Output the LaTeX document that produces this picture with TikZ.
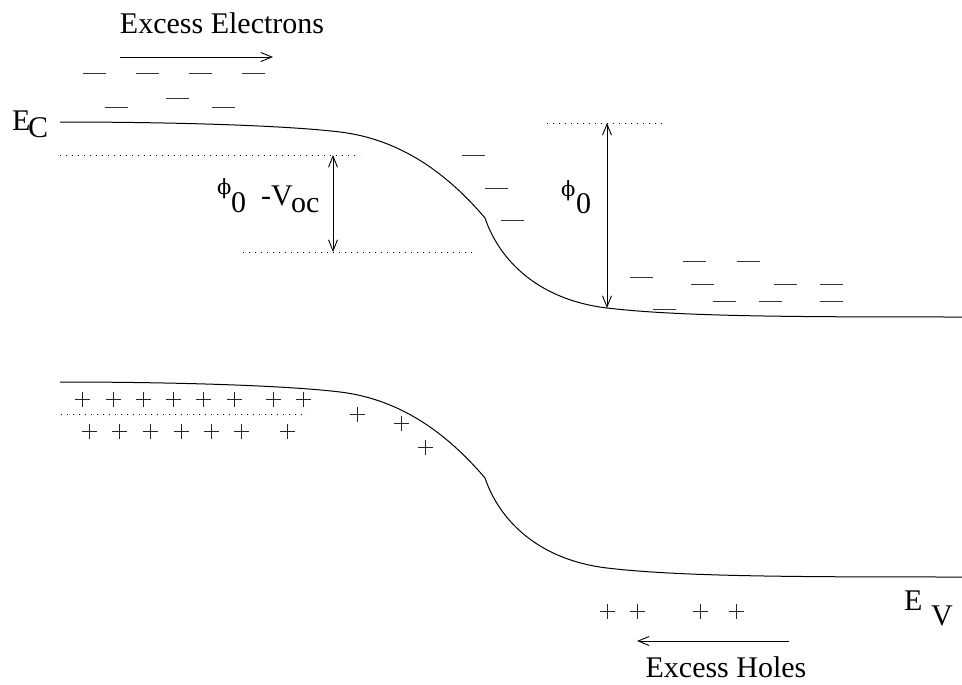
\documentclass[tikz,border=0pt]{standalone}
\usepackage{fontspec}
\setmainfont{Liberation Serif}
\newfontfamily\phifont{DejaVu Serif}
\usetikzlibrary{arrows.meta}
\begin{document}
\begin{tikzpicture}[x=1pt,y=-1pt,
  band/.style={line width=1pt},
  dotline/.style={line width=1pt, dash pattern=on 1pt off 5pt},
  elec/.style={line width=0.9pt, black!80},
  hole/.style={line width=0.9pt, black!85},
  dim/.style={line width=0.9pt, {Straight Barb[length=11pt,width=9pt]}-{Straight Barb[length=11pt,width=9pt]}},
  flow/.style={line width=0.9pt, -{Straight Barb[length=11pt,width=9pt]}},
  lbl/.style={inner sep=0pt, font=\fontsize{30}{34}\selectfont},
  sym/.style={inner sep=0pt, font=\phifont\fontsize{21}{26}\selectfont},
]
\useasboundingbox (0,0) rectangle (962,685);
% bands
\newcommand\bandpath{(60,122) .. controls (160,122) and (280,124.8) .. (340,132) .. controls (392,138.3) and (440,165) .. (485,218) .. controls (500,262) and (540,300) .. (607,308) .. controls (680,316.7) and (800,317) .. (962,317)}
\draw[band] \bandpath;
\draw[band, shift={(0,260)}] \bandpath;
% electrons
\newcommand\elec[2]{\draw[elec] (#1-11.5,#2) -- (#1+11.5,#2);}
\foreach \x/\y in {94/73,147/73,200/73,253/73,116/107,177/98,223/107,
  473/155,496/188,512/220,
  694/261,748/261,641/277,702/284,785/284,831/284,724/301,770/301,831/301,664/309}
  {\elec{\x}{\y}}
% holes
\newcommand\hole[2]{\draw[hole] (#1-7.5,#2) -- (#1+7.5,#2) (#1,#2-7.5) -- (#1,#2+7.5);}
\foreach \x/\y in {82/399,113/399,143/399,173/399,203/399,234/399,273/399,303/399,
  89/431,119/431,150/431,181/431,211/431,241/431,287/431,
  357/414,401/423,425/447,
  607/611,637/611,700/611,736/611}
  {\hole{\x}{\y}}
% dotted levels
\coordinate (d1a) at (60,155);  \coordinate (d1b) at (360,155);
\coordinate (d2a) at (243,252); \coordinate (d2b) at (477,252);
\coordinate (d3a) at (547,123); \coordinate (d3b) at (665,123);
\coordinate (d4a) at (61,414);  \coordinate (d4b) at (307,414);
\draw[dotline] (d1a) -- (d1b);
\draw[dotline] (d2a) -- (d2b);
\draw[dotline] (d3a) -- (d3b);
\draw[dotline] (d4a) -- (d4b);
% dimension arrows
\coordinate (v1t) at (333,155); \coordinate (v1b) at (333,252);
\coordinate (v2t) at (607,123); \coordinate (v2b) at (607,308);
\draw[dim] (v1t) -- (v1b);
\draw[dim] (v2t) -- (v2b);
% flow arrows
\coordinate (fe1) at (120,57); \coordinate (fe2) at (273,57);
\coordinate (fh1) at (789,641); \coordinate (fh2) at (637,641);
\draw[flow] (fe1) -- (fe2);
\draw[flow] (fh1) -- (fh2);
% labels
\node[lbl, anchor=base] (exel) at (222,34) {Excess Electrons};
\node[lbl, anchor=base] (exho) at (726,677) {Excess Holes};
\node[lbl, anchor=base west] (ecE) at (12,131) {E};
\node[lbl, anchor=base west] (ecC) at (28,138) {C};
\node[lbl, anchor=base west] (evE) at (904,610) {E};
\node[lbl, anchor=base west] (evV) at (931,625) {V};
\node[sym, anchor=base west] (phiL) at (217,194) {ϕ};
\node[lbl, anchor=base west] (zeroL) at (231,212) {0};
\node[lbl, anchor=base west] (mV) at (261,205) {-V};
\node[lbl, anchor=base west] (oc) at (291,212) {oc};
\node[sym, anchor=base west] (phiR) at (561,196) {ϕ};
\node[lbl, anchor=base west] (zeroR) at (576,213) {0};
\end{tikzpicture}
\end{document}
